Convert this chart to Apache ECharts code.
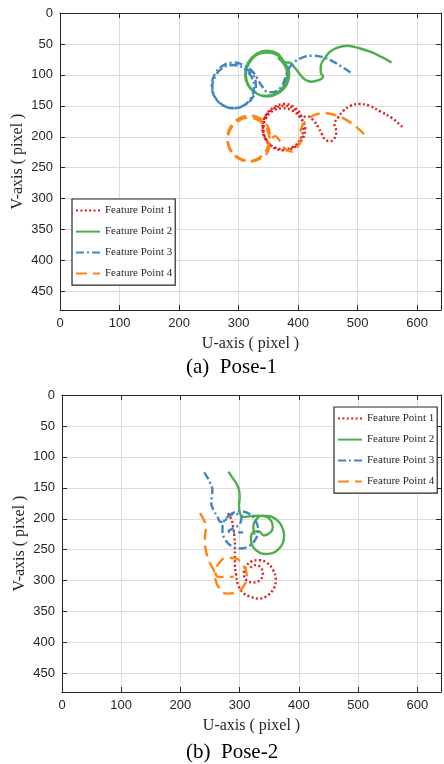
<!DOCTYPE html>
<html>
<head>
<meta charset="utf-8">
<script src="https://cdn.jsdelivr.net/npm/echarts/dist/echarts.min.js"></script>
<style>
html, body { margin: 0; padding: 0; background: #fff; }
#main { width: 444px; height: 764px; }
</style>
</head>
<body>
<div id="main"></div>
<script>
var chartDom = document.getElementById('main');
var myChart = echarts.init(chartDom);

const SERIES_NAMES = ['Feature Point 1', 'Feature Point 2', 'Feature Point 3', 'Feature Point 4'];
const U_TICKS = [0, 100, 200, 300, 400, 500, 600];
const V_TICKS = [0, 50, 100, 150, 200, 250, 300, 350, 400, 450];
const CAPTIONS = ['(a)  Pose-1', '(b)  Pose-2'];

// Pose-1 trajectories, [u, v] in pixels
const pose1Point1 = [
  [575,184],[558,170],[538,159],[520,150],[503,147],[488,150],[476,158],[467,169],[461,180],[464,191],
  [462,201],[455,207],[446,205],[440,196],[434,185],[426,174],[416,167],
  [407,168],[394,155],[376,150],[358,155],[345,168],[340,186],[345,204],[358,217],[376,222],[394,217],[407,204],[412,186],
  [404,170],[391,158],[375,154],[358,158],[346,170],[342,187],[346,204],[358,216],[375,220],[392,216],[404,204],[408,188],
  [405,166],[393,152],[377,147],[360,152],[346,165],[341,183],[344,200],[354,214]
];
const pose1Point2 = [
  [557,80],[540,71],[522,63],[503,57],[483,53],[466,56],[453,63],[444,74],[438,86],[438,96],[442,103],
  [433,109],[422,111],[412,108],[403,99],[394,88],[385,80],
  [380,80],[366,66],[348,61],[330,66],[316,80],[311,98],[316,117],[330,130],[348,135],[366,130],[380,117],[385,98],
  [378,81],[365,68],[347,64],[330,68],[317,82],[312,99],[317,117],[330,130],[347,134],[365,129],[377,116],[382,99],[377,84],[366,72]
];
const pose1Point3 = [
  [488,96],[472,86],[456,77],[440,71],[423,69],[407,72],[393,80],[383,92],[378,106],[372,119],[362,127],
  [350,128],[339,118],[331,105],[322,93],
  [310,85],[292,80],[274,85],[260,99],[255,117],[260,136],[274,149],[292,154],[310,149],[324,136],[329,117],[324,99],
  [309,89],[291,84],[273,89],[261,102],[256,119],[261,137],[273,149],[291,154],[309,149],[321,137],[326,119],[321,102],[309,90]
];
const pose1Point4 = [
  [511,196],[500,186],[488,177],[474,169],[459,164],[444,162],[430,164],[418,170],[409,179],[404,191],
  [404,205],[399,217],[390,224],[379,220],[370,208],[361,199],
  [355,203],[350,185],[337,171],[318,166],[300,171],[286,185],[281,203],[286,222],[300,235],[318,240],[337,235],[350,222],
  [352,204],[347,187],[335,174],[317,169],[300,174],[287,187],[282,204],[287,222],[300,234],[317,239],[335,234],[347,221],[351,208]
];

// Pose-2 trajectories
const pose2Point1 = [
  [280,191],[286,201],[289,213],[291,228],[292,244],[292,260],[292,275],[294,290],[297,306],[305,319],
  [318,326],[333,329],[347,324],[358,312],[361,298],[356,282],[346,271],[333,267],[320,269],[311,277],
  [307,289],[311,299],[321,303],[332,301],[339,290],[336,279],[327,275],[318,279]
];
const pose2Point2 = [
  [281,124],[288,134],[295,144],[299,154],[300,166],[299,178],[300,189],[307,197],[318,196],[330,195],
  [343,196],[353,203],[356,214],[351,223],[341,227],[332,220],[324,221],[319,231],[321,243],[329,252],
  [341,257],[354,256],[365,250],[373,239],[375,226],[371,212],[363,202],[351,196],[338,195],[328,201],
  [323,212],[325,226]
];
const pose2Point3 = [
  [240,125],[246,134],[251,144],[254,153],[253,164],[252,175],[256,186],[262,196],[268,205],[275,203],
  [286,192],[301,188],[316,192],[327,203],[331,218],[327,233],[316,244],[301,248],[286,244],[275,233],
  [271,218],[273,205],[281,196],[293,192],[303,198],[300,209],[290,215],[281,220],[292,222],[306,222]
];
const pose2Point4 = [
  [233,191],[239,201],[243,213],[242,224],[241,235],[242,246],[244,256],[247,265],[251,274],[256,283],
  [258,294],[264,310],[278,321],[295,319],[308,307],[312,291],[306,275],[293,264],[277,263],[265,272],
  [259,285],[262,293],[275,294],[290,294]
];

const POSES = [
  [pose1Point1, pose1Point2, pose1Point3, pose1Point4],
  [pose2Point1, pose2Point2, pose2Point3, pose2Point4]
];

const SERIF = '"Liberation Serif", "Times New Roman", serif';
const SANS = '"Liberation Sans", Arial, sans-serif';
const AXIS_COLOR = '#262626';
const GRID_COLOR = '#dcdcdc';

const LINE_STYLES = [
  { color: '#e41a1c', type: [2, 2.4], width: 2.4 },
  { color: '#4daf4a', type: 'solid', width: 2.4 },
  { color: '#3f86c4', type: [8, 3, 2, 3], width: 2.4 },
  { color: '#ff8412', type: [11, 6], width: 2.4 }
];

function uAxis(gridIndex, position)
{
  const main = position === 'bottom';
  return {
    type: 'value',
    gridIndex: gridIndex,
    position: position,
    min: 0,
    max: 640,
    interval: 100,
    name: main ? 'U-axis ( pixel )' : '',
    nameLocation: 'middle',
    nameGap: 26,
    nameTextStyle: { fontFamily: SERIF, fontSize: 16, color: AXIS_COLOR },
    axisLine: { show: true, onZero: false, lineStyle: { color: AXIS_COLOR, width: 1 } },
    axisTick: { show: true, inside: true, length: 5, lineStyle: { color: AXIS_COLOR } },
    axisLabel: {
      show: main,
      margin: 7,
      fontFamily: SANS,
      fontSize: 13,
      color: AXIS_COLOR,
      formatter: v => U_TICKS.includes(v) ? String(v) : ''
    },
    splitLine: { show: main, lineStyle: { color: GRID_COLOR, width: 1 } }
  };
}

function vAxis(gridIndex, position)
{
  const main = position === 'left';
  return {
    type: 'value',
    gridIndex: gridIndex,
    position: position,
    inverse: true,
    min: 0,
    max: 480,
    interval: 50,
    name: main ? 'V-axis ( pixel )' : '',
    nameLocation: 'middle',
    nameGap: 34,
    nameMoveOverlap: false,
    nameTextStyle: { fontFamily: SERIF, fontSize: 16, color: AXIS_COLOR },
    axisLine: { show: true, onZero: false, lineStyle: { color: AXIS_COLOR, width: 1 } },
    axisTick: { show: true, inside: true, length: 5, lineStyle: { color: AXIS_COLOR } },
    axisLabel: {
      show: main,
      margin: 7,
      fontFamily: SANS,
      fontSize: 13,
      color: AXIS_COLOR,
      formatter: v => V_TICKS.includes(v) ? String(v) : ''
    },
    splitLine: { show: main, lineStyle: { color: GRID_COLOR, width: 1 } }
  };
}

function legendAt(left, top)
{
  return {
    data: SERIES_NAMES,
    orient: 'vertical',
    left: left,
    top: top,
    itemWidth: 24,
    itemHeight: 14,
    itemGap: 9.8,
    padding: [6, 3, 6, 3],
    borderColor: AXIS_COLOR,
    borderWidth: 1.2,
    backgroundColor: '#fff',
    itemStyle: { opacity: 0, borderWidth: 0 },
    textStyle: { fontFamily: SERIF, fontSize: 11, color: AXIS_COLOR }
  };
}

function getSeries()
{
  let result = [];
  POSES.forEach((points, p) => {
    points.forEach((data, i) => {
      const st = LINE_STYLES[i];
      result.push({
        name: SERIES_NAMES[i],
        type: 'line',
        xAxisIndex: p * 2,
        yAxisIndex: p * 2,
        data: data,
        symbol: 'none',
        smooth: 0.4,
        clip: true,
        itemStyle: { color: st.color },
        lineStyle: { color: st.color, width: st.width, type: st.type }
      });
    });
  });
  return result;
}

var option = {
  animation: false,
  backgroundColor: '#fff',
  grid: [
    { left: 60, top: 13, width: 384, height: 297 },
    { left: 62, top: 395, width: 384, height: 297 }
  ],
  xAxis: [uAxis(0, 'bottom'), uAxis(0, 'top'), uAxis(1, 'bottom'), uAxis(1, 'top')],
  yAxis: [vAxis(0, 'left'), vAxis(0, 'right'), vAxis(1, 'left'), vAxis(1, 'right')],
  legend: [legendAt(72, 199), legendAt(334, 407)],
  graphic: [
    {
      type: 'text', left: 186, top: 357,
      style: { text: CAPTIONS[0], font: '21px ' + SERIF, fill: '#000' }
    },
    {
      type: 'text', left: 186, top: 742,
      style: { text: CAPTIONS[1], font: '21px ' + SERIF, fill: '#000' }
    }
  ],
  series: getSeries()
};

option && myChart.setOption(option);
</script>
</body>
</html>
